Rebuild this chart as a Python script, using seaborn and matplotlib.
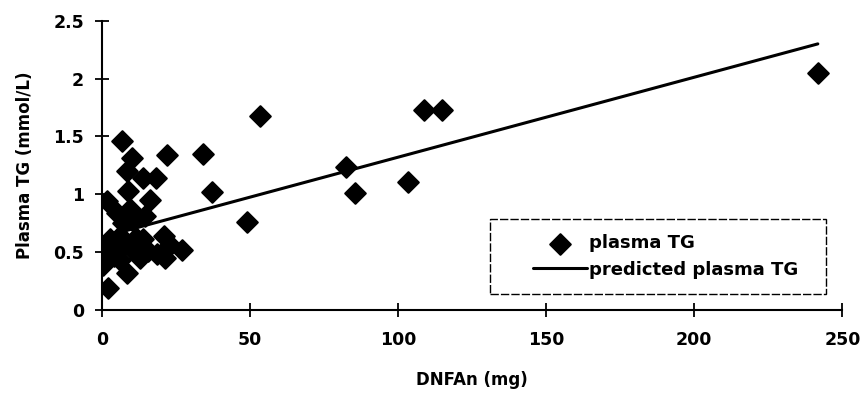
import numpy as np
import pandas as pd
import matplotlib
matplotlib.use("Agg")
import matplotlib.pyplot as plt
from matplotlib.patches import Rectangle
import seaborn as sns

# DNFAn intake (mg) and plasma TG (mmol/L)
dnfa_mg = [241.7, 53.2, 108.8, 114.9, 82.4, 85.4, 103.4, 49.0, 34.2, 37.3,
           22.0, 6.9, 10.3, 8.6, 13.8, 18.2, 8.9, 16.3, 1.6, 9.5,
           5.0, 14.6, 7.2, 10.6, 2.7, 7.2, 14.0, 20.8, 23.0, 27.0,
           1.0, 5.5, 10.6, 15.7, 21.4, 0.5, 6.1, 12.9, 0.5, 8.4,
           2.1, 6.1, 3.5, 11.5, 18.5, 4.0]
plasma_tg = [2.05, 1.68, 1.73, 1.73, 1.24, 1.01, 1.11, 0.76, 1.35, 1.02,
             1.34, 1.46, 1.31, 1.20, 1.14, 1.14, 1.03, 0.95, 0.94, 0.87,
             0.84, 0.81, 0.75, 0.77, 0.61, 0.59, 0.61, 0.64, 0.56, 0.52,
             0.52, 0.51, 0.52, 0.51, 0.45, 0.42, 0.43, 0.45, 0.39, 0.32,
             0.19, 0.64, 0.55, 0.62, 0.48, 0.47]

# regression line (predicted plasma TG) end points
pred_x = [0, 241.7]
pred_y = [0.63, 2.30]

df = pd.DataFrame({"DNFAn": dnfa_mg, "TG": plasma_tg})
pred = pd.DataFrame({"DNFAn": pred_x, "TG": pred_y})

sns.set_style("ticks")
plt.rcParams["font.family"] = ["DejaVu Sans"]
plt.rcParams["font.weight"] = "bold"
plt.rcParams["text.color"] = "black"
plt.rcParams["axes.labelcolor"] = "black"
plt.rcParams["xtick.color"] = "black"
plt.rcParams["ytick.color"] = "black"
plt.rcParams["axes.edgecolor"] = "black"

fig = plt.figure(figsize=(8.64, 3.99), dpi=100)
ax = fig.add_axes([0.118, 0.223, 0.857, 0.725])

sns.scatterplot(data=df, x="DNFAn", y="TG", marker="D", s=110, color="black",
                edgecolor="black", linewidth=1.5, ax=ax, label="plasma TG", zorder=3)
sns.lineplot(data=pred, x="DNFAn", y="TG", color="black", linewidth=2.2,
             ax=ax, label="predicted plasma TG", zorder=2)

ax.set_xlim(0, 250)
ax.set_ylim(0, 2.5)
ax.set_xticks([0, 50, 100, 150, 200, 250])
ax.set_yticks([0, 0.5, 1, 1.5, 2, 2.5])
ax.set_yticklabels(["0", "0.5", "1", "1.5", "2", "2.5"])
ax.tick_params(axis="both", direction="inout", length=10, width=1.3, labelsize=12.5)
ax.tick_params(axis="x", pad=10)
ax.tick_params(axis="y", pad=8)
for lab in ax.get_xticklabels() + ax.get_yticklabels():
    lab.set_fontweight("bold")

sns.despine(ax=ax)
ax.spines["left"].set_linewidth(1.5)
ax.spines["bottom"].set_linewidth(1.5)

ax.set_xlabel("DNFAn (mg)", fontsize=12, fontweight="bold", labelpad=16)
ax.set_ylabel("Plasma TG (mmol/L)", fontsize=12, fontweight="bold", labelpad=14)

# legend without its own frame, dashed box drawn around it
leg = ax.legend(loc="center right", bbox_to_anchor=(0.945, 0.185), fontsize=13,
                frameon=False, borderpad=0.2, handlelength=3.0,
                handletextpad=0.1, labelspacing=0.45, borderaxespad=0)
for t in leg.get_texts():
    t.set_fontweight("bold")
box = Rectangle((0.524, 0.055), 0.454, 0.26, transform=ax.transAxes, fill=False,
                edgecolor="black", linewidth=1.0, linestyle=(0, (6, 1.5)), zorder=4)
ax.add_patch(box)

fig.savefig("out.png", dpi=100)
